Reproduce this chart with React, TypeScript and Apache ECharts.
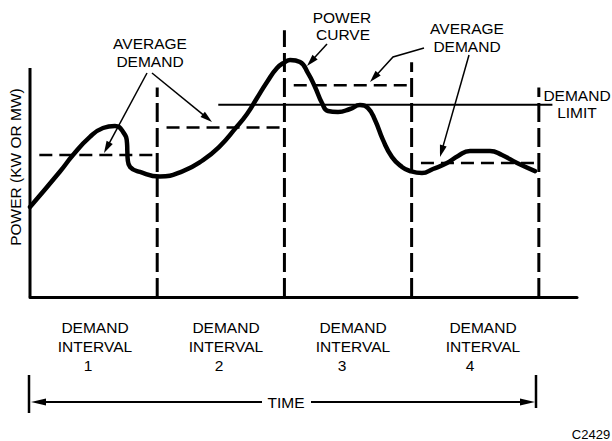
import React, { useEffect, useRef } from "react";
import * as echarts from "echarts";

// Demand interval boundaries (minutes) and labels
const intervalBounds = [0, 15, 30, 45, 60];
const intervalNames = ["1", "2", "3", "4"];
// Average demand per interval (kW, arbitrary units)
const averageDemand = [62, 74, 92.5, 58.5];
// Demand limit
const demandLimit = 84;
const demandLimitSpan = [22.2, 61.6];
// Power curve (time in minutes, power in kW)
const timeMin = [
  0, 3.54, 5.07, 7.07, 8.61, 10.02, 10.97, 11.44, 11.48, 11.52, 11.8, 12.97, 15.3, 18.04, 20.4,
  22.4, 24.17, 25.59, 26.77, 27.95, 29.13, 30.07, 30.66, 31.84, 32.78, 33.61, 34.43, 35.14, 36.32,
  37.73, 38.91, 39.86, 40.68, 41.62, 42.69, 43.86, 44.81, 46.22, 47.52, 49.17, 50.47, 51.88, 54.24,
  55.66, 57.43, 59.55,
];
const powerKw = [
  39.3, 54.8, 62.0, 69.9, 73.8, 74.7, 72.1, 67.2, 63.3, 60.3, 56.8, 54.6, 52.6, 55.0, 59.8, 65.9,
  73.4, 79.9, 86.9, 93.9, 100.0, 102.6, 103.5, 102.6, 97.8, 91.7, 84.7, 81.2, 80.8, 82.1, 83.8,
  82.5, 77.3, 68.6, 61.1, 56.8, 55.0, 54.1, 55.9, 58.5, 61.6, 63.8, 63.8, 62.0, 58.5, 55.0,
];

const FONT = "'Liberation Sans', Arial, Helvetica, sans-serif";

function txt(text: string, x: number, y: number, size = 15.5, extra: any = {}) {
  return {
    type: "text",
    x,
    y,
    silent: true,
    ...extra,
    style: {
      text,
      fill: "#000",
      fontSize: size,
      fontFamily: FONT,
      textAlign: "center",
      textVerticalAlign: "middle",
    },
  };
}

function arrowEls(pts: number[][], len: number, half: number, lw: number) {
  const n = pts.length;
  const [tx, ty] = pts[n - 1];
  const [px, py] = pts[n - 2];
  const dx = tx - px;
  const dy = ty - py;
  const d = Math.hypot(dx, dy);
  const ux = dx / d;
  const uy = dy / d;
  const bx = tx - ux * len;
  const by = ty - uy * len;
  const linePts = pts.slice(0, n - 1).concat([[bx + ux * 2, by + uy * 2]]);
  return [
    {
      type: "polyline",
      silent: true,
      shape: { points: linePts },
      style: { stroke: "#000", lineWidth: lw },
    },
    {
      type: "polygon",
      silent: true,
      shape: {
        points: [
          [tx, ty],
          [bx - uy * half, by + ux * half],
          [bx + uy * half, by - ux * half],
        ],
      },
      style: { fill: "#000" },
    },
  ];
}

export default function App() {
  const ref = useRef<HTMLDivElement>(null);

  useEffect(() => {
    const chart = echarts.init(ref.current!, null, { renderer: "svg" });

    const boundaryTop = [100, 91.5, 116.5, 102.5, 91.5];
    const boundarySeries = intervalBounds.map((b, i) => ({
      type: "line",
      silent: true,
      symbol: "none",
      z: 3,
      data: [
        [b, 0],
        [b, boundaryTop[i]],
      ],
      lineStyle: {
        color: "#000",
        width: 3,
        type: i === 0 ? "solid" : [19, 6],
        cap: "butt",
      },
    }));

    const averageSeries = averageDemand.map((a, i) => ({
      type: "line",
      silent: true,
      symbol: "none",
      z: 3,
      data: [
        [intervalBounds[i] + 1.1, a],
        [intervalBounds[i + 1] - 0.5, a],
      ],
      lineStyle: { color: "#000", width: 2.5, type: [13, 7], cap: "butt" },
    }));

    const limitSeries = {
      type: "line",
      silent: true,
      symbol: "none",
      z: 3,
      data: [
        [demandLimitSpan[0], demandLimit],
        [demandLimitSpan[1], demandLimit],
      ],
      lineStyle: { color: "#000", width: 2 },
    };

    const powerSeries = {
      type: "line",
      silent: true,
      symbol: "none",
      smooth: 0.5,
      z: 5,
      data: timeMin.map((t, i) => [t, powerKw[i]]),
      lineStyle: { color: "#000", width: 4.5, cap: "round", join: "round" },
    };

    const labelCenters = [95, 226, 353, 483];
    const numberX = [88, 219, 342, 470];

    const graphics: any[] = [
      txt("AVERAGE", 150, 43),
      txt("DEMAND", 150, 61),
      txt("POWER", 342, 17),
      txt("CURVE", 343, 34),
      txt("AVERAGE", 467, 28),
      txt("DEMAND", 467, 46),
      txt("DEMAND", 577, 95),
      txt("LIMIT", 577, 112),
      txt("POWER (KW OR MW)", 15, 167, 15.5, { rotation: Math.PI / 2 }),
      txt("TIME", 286, 402),
      txt("C2429", 591, 434, 13),
      ...arrowEls([[147, 73], [104, 153]], 12, 3.5, 1.5),
      ...arrowEls([[152, 73], [212, 122]], 12, 3.5, 1.5),
      ...arrowEls([[327, 44], [307, 66]], 12, 3.5, 1.5),
      ...arrowEls([[424, 48], [393, 57], [370, 82]], 12, 3.5, 1.5),
      ...arrowEls([[469, 55], [440, 157]], 12, 3.5, 1.5),
      ...arrowEls([[262, 402], [31, 402]], 15, 3.5, 2),
      ...arrowEls([[311, 402], [535, 402]], 15, 3.5, 2),
      {
        type: "line",
        silent: true,
        shape: { x1: 29, y1: 375, x2: 29, y2: 413 },
        style: { stroke: "#000", lineWidth: 2.5 },
      },
      {
        type: "line",
        silent: true,
        shape: { x1: 536, y1: 375, x2: 536, y2: 408 },
        style: { stroke: "#000", lineWidth: 2.5 },
      },
    ];
    intervalNames.forEach((name, i) => {
      graphics.push(txt("DEMAND", labelCenters[i], 327));
      graphics.push(txt("INTERVAL", labelCenters[i], 346));
      graphics.push(txt(name, numberX[i], 365));
    });

    const option: any = {
      animation: false,
      backgroundColor: "#fff",
      grid: { left: 30, right: 35, top: 22.2, bottom: 144, outerBoundsMode: "none" },
      xAxis: {
        type: "value",
        min: 0,
        max: 64.5,
        axisLine: { show: true, onZero: false, lineStyle: { color: "#000", width: 3 } },
        axisTick: { show: false },
        axisLabel: { show: false },
        splitLine: { show: false },
      },
      yAxis: {
        type: "value",
        min: 0,
        max: 120,
        axisLine: { show: false },
        axisTick: { show: false },
        axisLabel: { show: false },
        splitLine: { show: false },
      },
      series: [...boundarySeries, ...averageSeries, limitSeries, powerSeries],
      graphic: graphics,
    };

    chart.setOption(option);
    return () => chart.dispose();
  }, []);

  return (
    <div
      ref={ref}
      style={{ position: "fixed", left: 0, top: 0, width: 612, height: 441, background: "#fff" }}
    />
  );
}
